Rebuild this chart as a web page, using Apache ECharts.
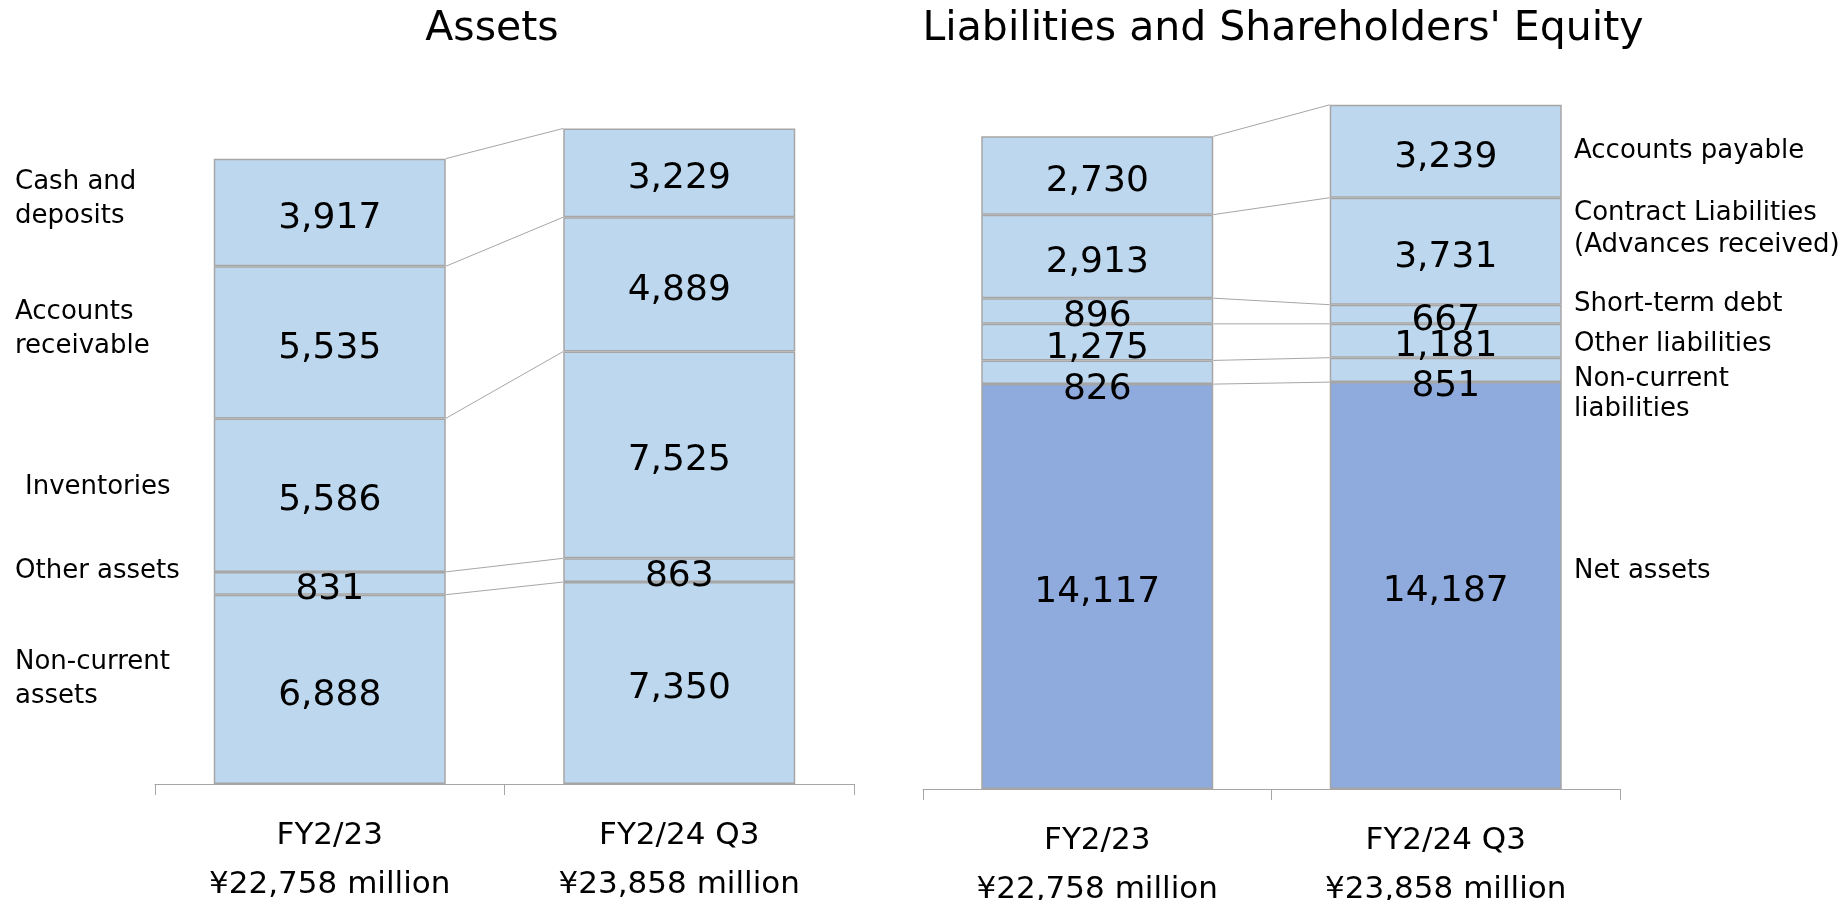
<!DOCTYPE html>
<html>
<head>
<meta charset="utf-8">
<script src="https://cdn.jsdelivr.net/npm/echarts@6/dist/echarts.min.js"></script>
<style>
  html, body { margin: 0; padding: 0; background: #fff; }
  #main { width: 1841px; height: 900px; }
</style>
</head>
<body>
<div id="main"></div>
<script>
const categories = ['FY2/23', 'FY2/24 Q3']
const totals = ['¥22,758 million', '¥23,858 million']

// assets, bottom to top
const assetNames = ['Non-current assets', 'Other assets', 'Inventories', 'Accounts receivable', 'Cash and deposits']
const assetsPrev = [6888, 831, 5586, 5535, 3917]
const assetsCurr = [7350, 863, 7525, 4889, 3229]

// liabilities and equity, bottom to top
const liabNames = ['Net assets', 'Non-current liabilities', 'Other liabilities', 'Short-term debt', 'Contract Liabilities', 'Accounts payable']
const liabPrev = [14117, 826, 1275, 896, 2913, 2730]
const liabCurr = [14187, 851, 1181, 667, 3731, 3239]

const FONT = 'DejaVu Sans'
const BORDER = '#A6A6A6'
const LIGHT = '#BDD7EE'
const DARK = '#8FAADC'
const BAR_W = 232

const chart = echarts.init(document.getElementById('main'))

const cum = arr => {
  let s = 0
  return arr.map(v => (s += v))
}

const barSeries = (names, prev, curr, idx, stack) => names.map((name, i) => ({
  name: name,
  type: 'bar',
  stack: stack,
  xAxisIndex: idx,
  yAxisIndex: idx,
  barWidth: BAR_W,
  data: [prev[i], curr[i]],
  itemStyle: {
    color: (stack === 'liab' && i === 0) ? DARK : LIGHT,
    borderColor: BORDER,
    borderWidth: 1.5
  },
  label: {
    show: true,
    position: 'inside',
    fontFamily: FONT,
    fontSize: 36,
    color: '#000',
    offset: (stack === 'liab' && i === 1) ? [0, 17] : [0, 6],
    formatter: p => p.value.toLocaleString('en-US')
  },
  z: 3
}))

// thin lines joining matching boundaries of the two bars
const connector = (prev, curr, idx) => {
  const a = cum(prev), b = cum(curr)
  return {
    type: 'custom',
    xAxisIndex: idx,
    yAxisIndex: idx,
    silent: true,
    z: 2,
    encode: { x: 0, y: [1, 2] },
    data: a.map((v, i) => [0, v, b[i]]),
    renderItem (params, api) {
      const p1 = api.coord([0, api.value(1)])
      const p2 = api.coord([1, api.value(2)])
      return {
        type: 'line',
        shape: { x1: p1[0] + BAR_W / 2, y1: p1[1], x2: p2[0] - BAR_W / 2, y2: p2[1] },
        style: { stroke: BORDER, lineWidth: 1 }
      }
    }
  }
}

const xAxis = idx => ({
  type: 'category',
  gridIndex: idx,
  data: categories,
  axisLine: { lineStyle: { color: BORDER, width: 1 } },
  axisTick: { show: true, length: 11, lineStyle: { color: BORDER } },
  axisLabel: {
    margin: 27,
    fontFamily: FONT,
    fontSize: 31,
    lineHeight: 49,
    color: '#000',
    formatter: (v, i) => v + '\n' + totals[i]
  }
})

const yAxis = idx => ({ type: 'value', gridIndex: idx, min: 0, max: 25000, show: false })

const text = (x, y, t, size, lh, align) => ({
  type: 'text',
  x: x,
  y: y,
  style: {
    text: t,
    font: size + 'px "' + FONT + '"',
    fill: '#000',
    align: align || 'left',
    verticalAlign: 'middle',
    lineHeight: lh || size
  }
})

chart.setOption({
  animation: false,
  grid: [
    { left: 155, width: 699, top: 97, height: 687, outerBoundsMode: 'none', containLabel: false },
    { left: 923, width: 697, top: 72, height: 717, outerBoundsMode: 'none', containLabel: false }
  ],
  xAxis: [xAxis(0), xAxis(1)],
  yAxis: [yAxis(0), yAxis(1)],
  series: [
    ...barSeries(assetNames, assetsPrev, assetsCurr, 0, 'assets'),
    ...barSeries(liabNames, liabPrev, liabCurr, 1, 'liab'),
    connector(assetsPrev, assetsCurr, 0),
    connector(liabPrev, liabCurr, 1)
  ],
  graphic: [
    text(492, 29, 'Assets', 41, 41, 'center'),
    text(1283, 29, "Liabilities and Shareholders' Equity", 41, 41, 'center'),
    // left side captions
    text(15, 199, 'Cash and\ndeposits', 26, 34),
    text(15, 329, 'Accounts\nreceivable', 26, 34),
    text(25, 487, 'Inventories', 26),
    text(15, 571, 'Other assets', 26),
    text(15, 679, 'Non-current\nassets', 26, 34),
    // right side captions
    text(1574, 151, 'Accounts payable', 26),
    text(1574, 229, 'Contract Liabilities\n(Advances received)', 26, 32),
    text(1574, 304, 'Short-term debt', 26),
    text(1574, 344, 'Other liabilities', 26),
    text(1574, 394, 'Non-current\nliabilities', 26, 30),
    text(1574, 571, 'Net assets', 26)
  ]
})
</script>
</body>
</html>
